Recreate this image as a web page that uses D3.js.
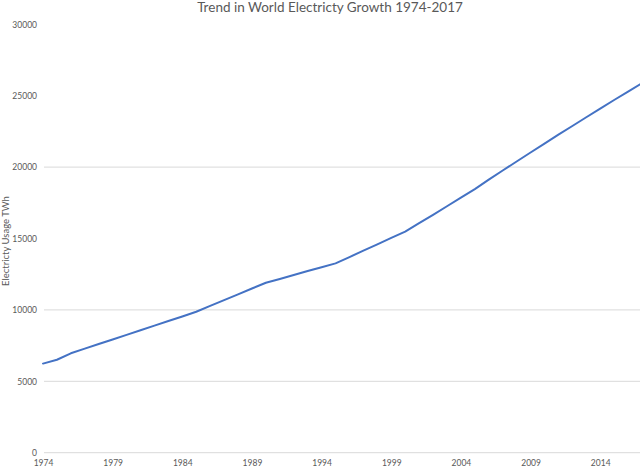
<!DOCTYPE html>
<html>
<head>
<meta charset="utf-8">
<script src="https://cdn.jsdelivr.net/npm/d3@7"></script>
<style>
  html, body { margin: 0; padding: 0; background: #fff; }
  svg { display: block; }
  text { font-family: Lato, "Open Sans", sans-serif; fill: #595959; }
</style>
</head>
<body>
<svg id="chart" width="640" height="467"></svg>
<script>
const years = d3.range(1974, 2018);
const usage = [
  6240, 6510, 6960, 7290, 7610, 7930, 8250, 8570, 8900, 9220,
  9540, 9870, 10280, 10690, 11090, 11500, 11900, 12170, 12440, 12720,
  12990, 13260, 13700, 14150, 14590, 15040, 15480, 16070, 16660, 17260,
  17860, 18460, 19120, 19760, 20390, 21020, 21650, 22270, 22880, 23490,
  24100, 24700, 25290, 25880
];
const yTicks = [0, 5000, 10000, 15000, 20000, 25000, 30000];
const gridValues = [0, 5000, 10000, 20000];
const xTickYears = [1974, 1979, 1984, 1989, 1994, 1999, 2004, 2009, 2014];
const titleText = "Trend in World Electricty Growth 1974-2017";
const yTitle = "Electricty Usage TWh";

const svg = d3.select("#chart");
const x = d3.scaleLinear().domain([1974, 2017]).range([43, 642]);
const y = d3.scaleLinear().domain([0, 30000]).range([452.7, 24.3]);

// gridlines
svg.append("g").selectAll("line").data(gridValues).join("line")
  .attr("x1", 44).attr("x2", 660)
  .attr("y1", d => y(d)).attr("y2", d => y(d))
  .attr("stroke", "#d9d9d9").attr("stroke-width", 1);

// y axis labels
const yAxis = d3.axisLeft(y).tickValues(yTicks).tickSize(0).tickPadding(0).tickFormat(d3.format("d"));
const gy = svg.append("g").attr("transform", "translate(37,0)").call(yAxis);
gy.select(".domain").remove();
gy.selectAll("text").style("font-size", "8.5px").attr("fill", "#595959")
  .style("font-family", "Lato, 'Open Sans', sans-serif");

// x axis labels
const xAxis = d3.axisBottom(x).tickValues(xTickYears).tickSize(0).tickPadding(0).tickFormat(d3.format("d"));
const gx = svg.append("g").attr("transform", "translate(0,460)").call(xAxis);
gx.select(".domain").remove();
gx.selectAll("text").style("font-size", "8.5px").attr("fill", "#595959")
  .style("font-family", "Lato, 'Open Sans', sans-serif");

// line
const line = d3.line().x((d, i) => x(years[i])).y(d => y(d));
svg.append("path").datum(usage)
  .attr("d", line)
  .attr("fill", "none")
  .attr("stroke", "#4472C4")
  .attr("stroke-width", 2)
  .attr("stroke-linejoin", "round")
  .attr("stroke-linecap", "round");

// title
svg.append("text").attr("x", 330).attr("y", 11.5)
  .attr("text-anchor", "middle")
  .style("font-size", "13.5px")
  .text(titleText);

// y title
svg.append("text")
  .attr("transform", "translate(9,241) rotate(-90)")
  .attr("text-anchor", "middle")
  .style("font-size", "9.5px")
  .text(yTitle);
</script>
</body>
</html>
